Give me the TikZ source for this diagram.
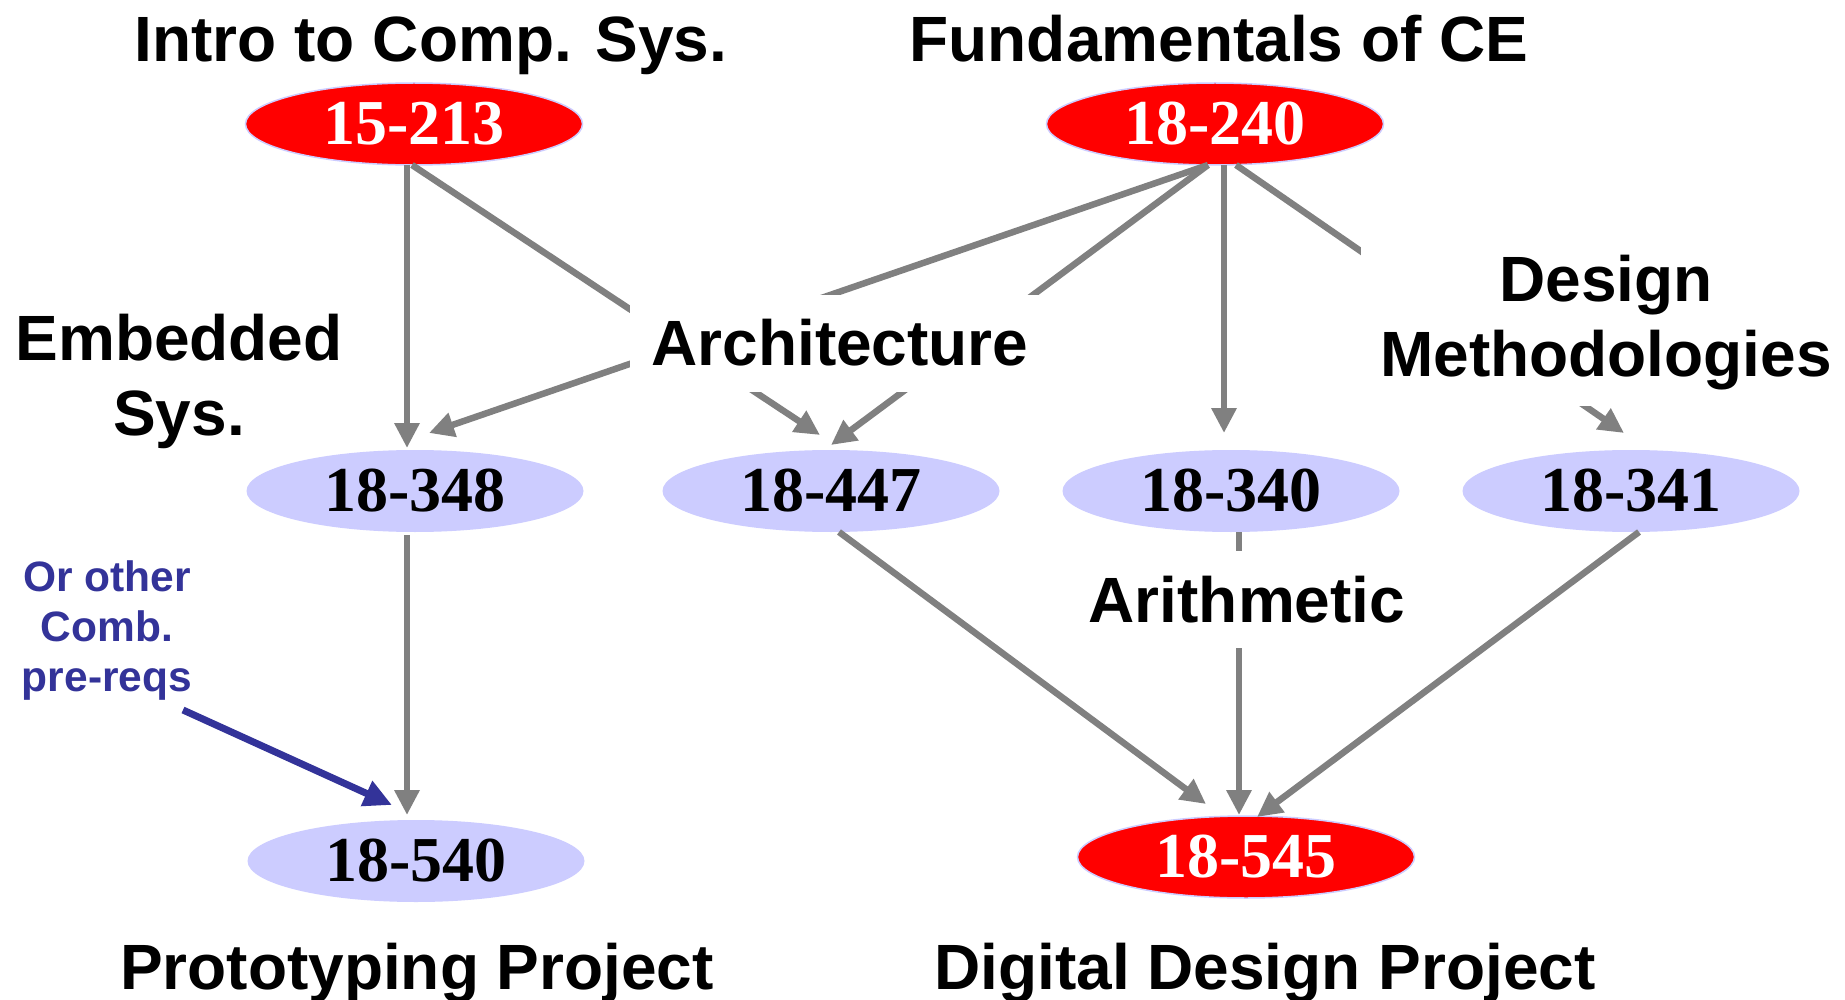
\documentclass[tikz,border=0pt]{standalone}
\usepackage{fontspec}
\setmainfont{Liberation Sans}
\newfontfamily\crsfont{Liberation Serif}
\usetikzlibrary{shapes.geometric,arrows.meta}
\definecolor{lav}{HTML}{CCCCFF}
\definecolor{arrgray}{HTML}{808080}
\definecolor{noteblue}{HTML}{333399}
\begin{document}
\begin{tikzpicture}[x=1pt,y=-1pt,
  lbl/.style={font=\fontsize{64}{75}\selectfont\bfseries, inner sep=0pt},
  gap/.style={lbl, fill=white},
  crs/.style={ellipse, minimum width=337pt, minimum height=82pt, inner sep=0pt, font=\crsfont\fontsize{64}{75}\selectfont\bfseries},
  core/.style={crs, fill=red, draw=lav, line width=1.5pt, text=white},
  elec/.style={crs, fill=lav, text=black},
  arr/.style={draw=arrgray, line width=6.5pt, -{Triangle[length=25pt,width=24pt]}},
  note/.style={draw=noteblue, line width=7pt, -{Triangle[length=28pt,width=26pt]}}
]
\fill[white] (0,0) rectangle (1845,1000);
\useasboundingbox (0,0) rectangle (1845,1000);

% course nodes
\node[core] (c15213) at (414,124) {15-213};
\node[core] (c18240) at (1215,124) {18-240};
\node[elec] (c18348) at (415,491) {18-348};
\node[elec] (c18447) at (831,491) {18-447};
\node[elec] (c18340) at (1231,491) {18-340};
\node[elec] (c18341) at (1631,491) {18-341};
\node[elec] (c18540) at (416,861) {18-540};
\node[core] (c18545) at (1246,857) {18-545};

% prerequisite arrows
\draw[arr] ([shift={(-7,41)}]c15213.center) -- ([shift={(-8,-43)}]c18348.center);
\draw[arr] ([shift={(-2,41)}]c15213.center) -- ([shift={(-11,-56)}]c18447.center);
\draw[arr] ([shift={(-7,41)}]c18240.center) -- ([shift={(14,-58)}]c18348.center);
\draw[arr] ([shift={(-7,41)}]c18240.center) -- ([shift={(0,-46)}]c18447.center);
\draw[arr] ([shift={(9,41)}]c18240.center) -- ([shift={(-7,-58)}]c18340.center);
\draw[arr] ([shift={(21,41)}]c18240.center) -- ([shift={(-7,-58)}]c18341.center);
\draw[arr] ([shift={(-8,44)}]c18348.center) -- ([shift={(-9,-46)}]c18540.center);
\draw[arr] ([shift={(8,41)}]c18447.center) -- ([shift={(-40,-53)}]c18545.center);
\draw[arr] ([shift={(8,41)}]c18340.center) -- ([shift={(-7,-42)}]c18545.center);
\draw[arr] ([shift={(8,41)}]c18341.center) -- ([shift={(11,-40)}]c18545.center);

% note arrow
\coordinate (noteTail) at (183,710);
\draw[note] (noteTail) -- ([shift={(-24,-56)}]c18540.center);

% labels
\node[lbl, anchor=base] (tIntro) at (431,62) {Intro to Comp. Sys.};
\node[lbl, anchor=base] (tFund) at (1219,62) {Fundamentals of CE};
\node[lbl, anchor=base] (tProto) at (417,989) {Prototyping Project};
\node[lbl, anchor=base] (tDig) at (1265,989) {Digital Design Project};
\node[lbl, align=center] (tEmb) at (179,381) {Embedded\\Sys.};
\node[gap, anchor=base, minimum width=420pt, minimum height=97pt] (tArch) at (840,366) {Architecture};
\node[gap, align=center, minimum width=490pt, minimum height=166pt] (tDes) at (1606,323) {Design\\Methodologies};
\node[gap, anchor=base, inner xsep=10pt, minimum height=97pt] (tArith) at (1247,622) {Arithmetic};
\node[font=\fontsize{42.5}{50}\selectfont\bfseries, text=noteblue, align=center, inner sep=0pt] (tNote) at (107,631) {Or other\\Comb.\\pre-reqs};
\end{tikzpicture}
\end{document}
